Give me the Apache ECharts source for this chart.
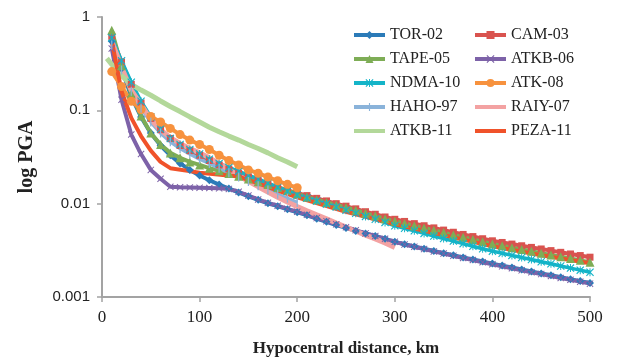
<!DOCTYPE html>
<html>
<head>
<meta charset="utf-8">
<script src="https://cdn.jsdelivr.net/npm/echarts@6/dist/echarts.min.js"></script>
<style>html,body{margin:0;padding:0;background:#fff}#c{width:617px;height:363px}</style>
</head>
<body>
<div id="c"></div>
<script>
// ---------- data ----------
const xFull = [10,20,30,40,50,60,70,80,90,100,110,120,130,140,150,160,170,180,190,200,
  210,220,230,240,250,260,270,280,290,300,310,320,330,340,350,360,370,380,390,400,
  410,420,430,440,450,460,470,480,490,500];
const x200 = [10,20,30,40,50,60,70,80,90,100,110,120,130,140,150,160,170,180,190,200];
const x300 = [10,20,30,40,50,60,70,80,90,100,110,120,130,140,150,160,170,180,190,200,
  210,220,230,240,250,260,270,280,290,300];
const xAtkb11 = [5,10,20,30,40,50,60,70,80,90,100,110,120,130,140,150,160,170,180,190,200];
const xPeza = [10,20,30,40,50,60,70,100,140,160,180,200,250,300,350,400,450,500];

const tor02 = [0.55,0.28,0.14,0.085,0.057,0.042,0.033,0.027,0.023,0.020,0.0178,0.0160,0.0145,0.0132,0.0120,0.0110,0.0101,0.0094,0.0087,0.0081,
  0.0075,0.0069,0.0064,0.0059,0.0055,0.0051,0.0048,0.0045,0.0042,0.0039,0.00368,0.00348,0.00329,0.00311,0.00295,0.00280,0.00265,0.00252,0.00240,0.00228,
  0.00217,0.00207,0.00197,0.00188,0.00179,0.00171,0.00163,0.00155,0.00148,0.00141];
const cam03 = [0.62,0.33,0.19,0.12,0.082,0.062,0.050,0.042,0.037,0.033,0.029,0.026,0.0235,0.0213,0.0194,0.0177,0.0162,0.0150,0.0139,0.0130,
  0.0122,0.0114,0.0107,0.0100,0.0094,0.0088,0.0082,0.0077,0.0072,0.0068,0.00645,0.00611,0.00580,0.00550,0.00521,0.00494,0.00468,0.00444,0.00421,0.00400,
  0.00384,0.00369,0.00354,0.00340,0.00327,0.00314,0.00301,0.00289,0.00278,0.00267];
const tape05 = [0.72,0.30,0.15,0.087,0.057,0.043,0.035,0.031,0.028,0.026,0.024,0.0225,0.021,0.0197,0.0184,0.0172,0.0160,0.0149,0.0139,0.0127,
  0.0118,0.0110,0.0103,0.0097,0.0091,0.0085,0.0079,0.0074,0.0069,0.0065,0.00614,0.00581,0.00549,0.00519,0.00490,0.00463,0.00438,0.00414,0.00391,0.00370,
  0.00354,0.00338,0.00323,0.00309,0.00295,0.00282,0.00270,0.00258,0.00247,0.00236];
const atkb06 = [0.46,0.13,0.055,0.034,0.023,0.0185,0.0152,0.0150,0.0149,0.0148,0.0147,0.0146,0.0144,0.0134,0.0122,0.0111,0.0102,0.0095,0.0088,0.0082,
  0.0076,0.0070,0.0065,0.0060,0.0056,0.0052,0.0048,0.0045,0.0042,0.0039,0.00366,0.00345,0.00326,0.00308,0.00292,0.00276,0.00262,0.00249,0.00236,0.00224,
  0.00213,0.00203,0.00193,0.00184,0.00176,0.00168,0.00160,0.00153,0.00146,0.00139];
const ndma10 = [0.60,0.34,0.20,0.125,0.085,0.063,0.050,0.043,0.038,0.034,0.030,0.027,0.0245,0.0222,0.0202,0.0184,0.0166,0.0150,0.0136,0.0124,
  0.0115,0.0107,0.0099,0.0092,0.0085,0.0079,0.0073,0.0068,0.0063,0.0058,0.00545,0.00512,0.00480,0.00451,0.00423,0.00397,0.00373,0.00350,0.00329,0.00310,
  0.00294,0.00279,0.00265,0.00252,0.00239,0.00227,0.00215,0.00204,0.00194,0.00184];
const atk08 = [0.26,0.18,0.125,0.102,0.086,0.075,0.064,0.055,0.048,0.043,0.038,0.033,0.029,0.026,0.023,0.0212,0.0193,0.0176,0.0161,0.0148];
const haho97 = [0.50,0.27,0.16,0.105,0.075,0.057,0.046,0.039,0.034,0.030,0.027,0.024,0.0215,0.0193,0.0173,0.0156,0.0140,0.0126,0.0114,0.0103];
const raiy07 = [0.55,0.29,0.165,0.115,0.080,0.062,0.051,0.044,0.039,0.035,0.031,0.027,0.0232,0.0200,0.0174,0.0152,0.0133,0.0117,0.0104,0.0093,
  0.0084,0.0076,0.0069,0.0062,0.0056,0.0051,0.0046,0.0042,0.0038,0.0034];
const atkb11 = [0.36,0.31,0.235,0.19,0.165,0.145,0.126,0.110,0.097,0.085,0.075,0.066,0.059,0.053,0.048,0.043,0.039,0.035,0.031,0.028,0.0248];
const peza11 = [0.56,0.16,0.083,0.053,0.037,0.028,0.024,0.0215,0.0195,0.0165,0.0138,0.0117,0.0082,0.0060,0.0046,0.0035,0.0028,0.0023];

const yTickLabels = {'0.001':'0.001','0.01':'0.01','0.1':'0.1','1':'1'};
const xTicks = [0,100,200,300,400,500];
const legendCol1 = ['TOR-02','TAPE-05','NDMA-10','HAHO-97','ATKB-11'];
const legendCol2 = ['CAM-03','ATKB-06','ATK-08','RAIY-07','PEZA-11'];

// ---------- chart ----------
const pair = (xs, ys) => xs.map((x, i) => [x, ys[i]]);
const symX = 'path://M0,1L1,0L5,4L9,0L10,1L6,5L10,9L9,10L5,6L1,10L0,9L4,5Z';
const symAst = 'path://M4.4,0L5.6,0L5.6,10L4.4,10Z M0,1L1,0L5,4L9,0L10,1L6,5L10,9L9,10L5,6L1,10L0,9L4,5Z';
const symBar = 'path://M0,0L0,0Z M10,10L10,10Z M4.3,0L5.7,0L5.7,10L4.3,10Z';
const noMarker = ['RAIY-07','ATKB-11','PEZA-11'];

function mk(name, xs, ys, color, symbol, size, width) {
  return {
    name: name, type: 'line', data: pair(xs, ys),
    symbol: symbol, symbolSize: size, showSymbol: symbol !== 'none',
    lineStyle: { color: color, width: width },
    itemStyle: { color: color },
    emphasis: { disabled: true }
  };
}

const series = [
  mk('TOR-02', xFull, tor02, '#2B7BB8', 'diamond', 8, 4),
  mk('CAM-03', xFull, cam03, '#D9534F', 'rect', 7, 4),
  mk('TAPE-05', xFull, tape05, '#7EAD56', 'triangle', 9, 4),
  mk('ATKB-06', xFull, atkb06, '#7D62A8', symX, 7, 4),
  mk('NDMA-10', xFull, ndma10, '#14B4C8', symAst, 8, 3.5),
  mk('ATK-08', x200, atk08, '#F7923E', 'circle', 9, 4),
  mk('HAHO-97', x200, haho97, '#8AB3DA', symBar, 9, 3.5),
  mk('RAIY-07', x300, raiy07, '#F3A2A2', 'none', 0, 5),
  mk('ATKB-11', xAtkb11, atkb11, '#B3D89A', 'none', 0, 5),
  mk('PEZA-11', xPeza, peza11, '#F0522A', 'none', 0, 4)
];

const legendItems = names => names.map(n => noMarker.includes(n) ? { name: n, itemStyle: { opacity: 0 } } : { name: n });
const legendCommon = {
  orient: 'vertical', itemWidth: 31, itemHeight: 10, itemGap: 8, top: 27, padding: 0,
  lineStyle: { width: 4 },
  textStyle: { fontFamily: 'Liberation Serif', fontSize: 16, color: '#222' },
  selectedMode: false
};

const chart = echarts.init(document.getElementById('c'), null, { renderer: 'canvas' });
chart.setOption({
  animation: false,
  backgroundColor: '#fff',
  grid: { left: 102, right: 27, top: 17, bottom: 66 },
  legend: [
    Object.assign({}, legendCommon, { left: 352, data: legendItems(legendCol1) }),
    Object.assign({}, legendCommon, { left: 473, data: legendItems(legendCol2) })
  ],
  xAxis: {
    type: 'value', min: xTicks[0], max: xTicks[xTicks.length - 1], interval: 100,
    splitLine: { show: false },
    axisLine: { lineStyle: { color: '#A3A3A3', width: 2 } },
    axisTick: { show: true, length: 5, lineStyle: { color: '#A3A3A3', width: 1.5 } },
    axisLabel: { margin: 12, fontFamily: 'Liberation Serif', fontSize: 17, color: '#222' },
    name: 'Hypocentral distance, km', nameLocation: 'middle', nameGap: 43,
    nameTextStyle: { fontFamily: 'Liberation Serif', fontWeight: 'bold', fontSize: 17, color: '#222' }
  },
  yAxis: {
    type: 'log', logBase: 10, min: 0.001, max: 1,
    splitLine: { show: false },
    axisLine: { show: true, lineStyle: { color: '#A3A3A3', width: 2 } },
    axisTick: { show: true, length: 5, lineStyle: { color: '#A3A3A3', width: 1.5 } },
    axisLabel: {
      margin: 12, fontFamily: 'Liberation Sans', fontSize: 15, color: '#222',
      formatter: v => yTickLabels[String(Number(v.toPrecision(3)))] || ''
    },
    name: 'log PGA', nameLocation: 'middle', nameGap: 65,
    nameTextStyle: { fontFamily: 'Liberation Serif', fontWeight: 'bold', fontSize: 20, color: '#222' }
  },
  series: series
});
</script>
</body>
</html>
